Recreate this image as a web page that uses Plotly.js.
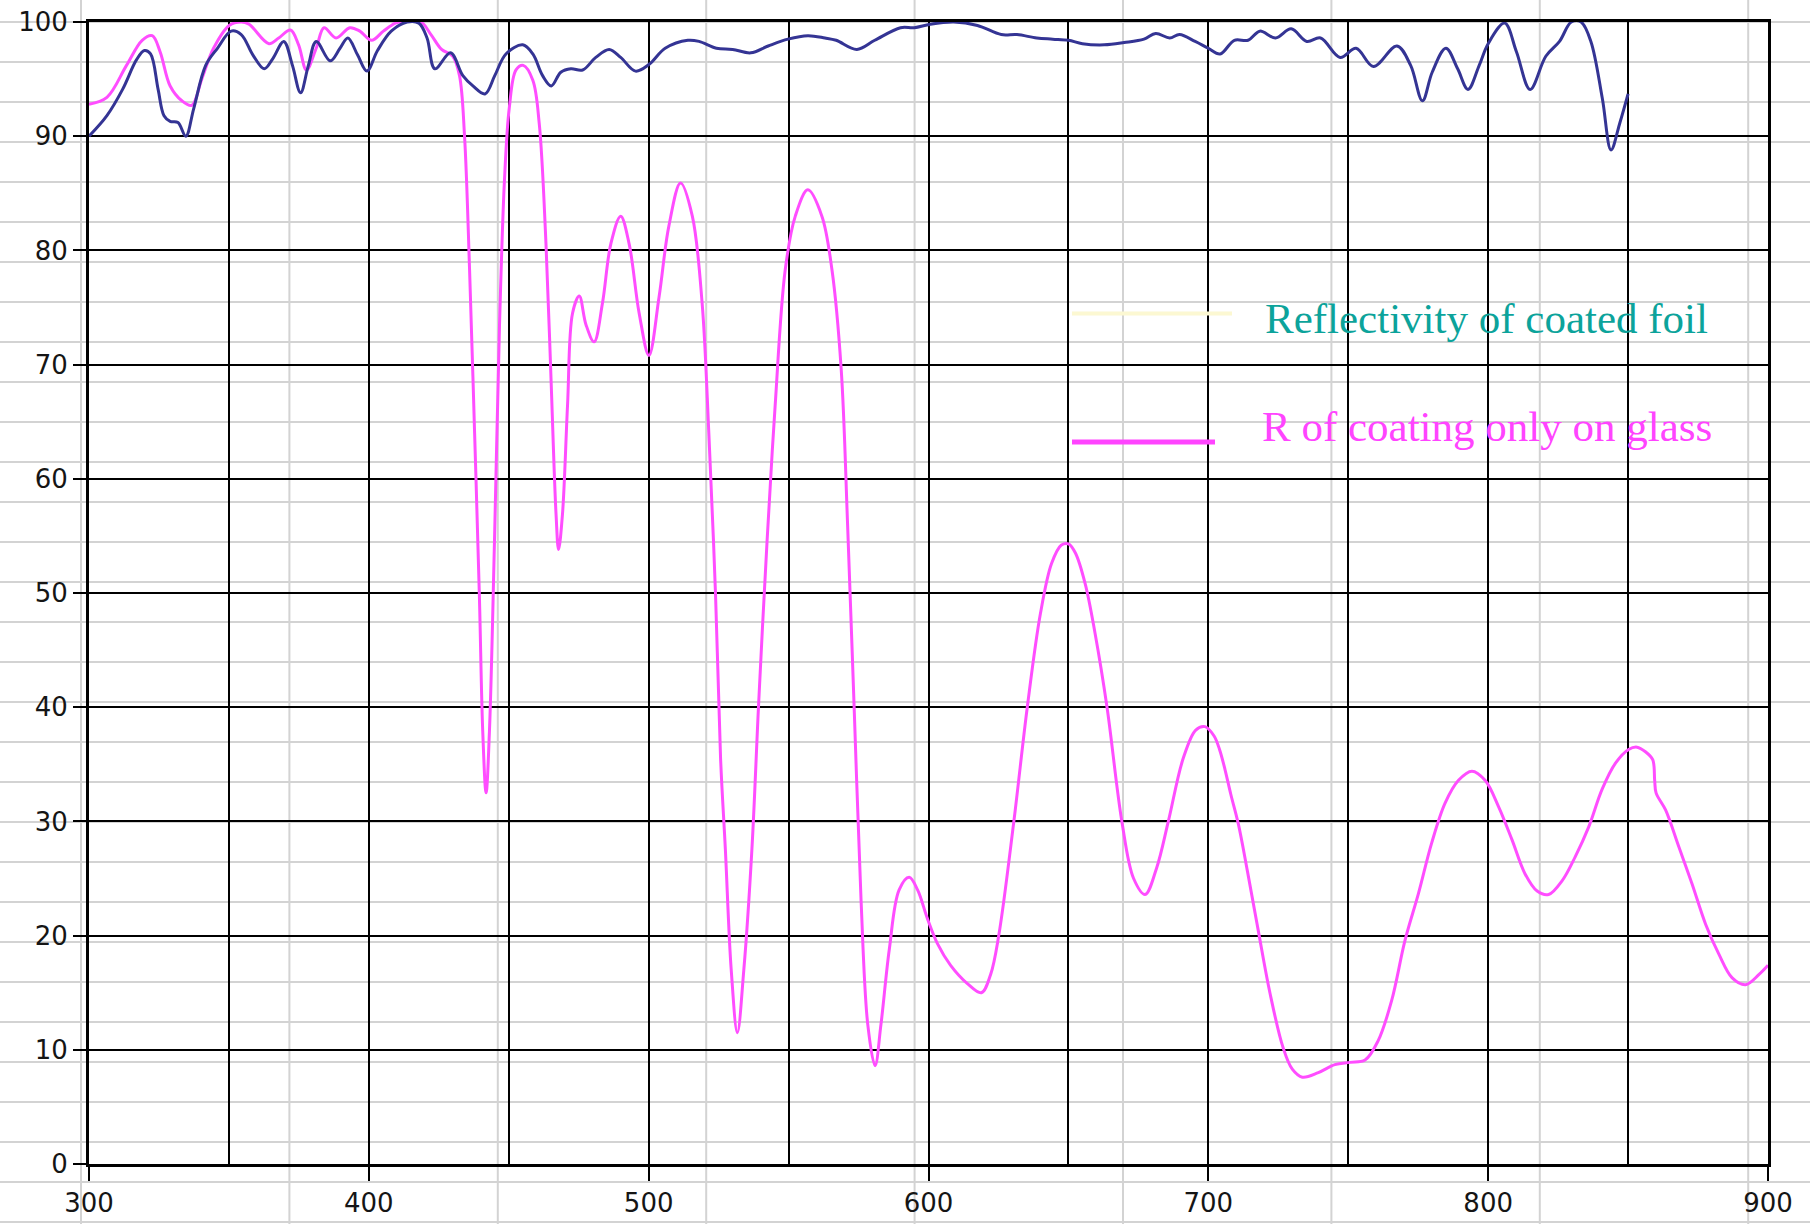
<!DOCTYPE html>
<html>
<head>
<meta charset="utf-8">
<script src="https://cdn.plot.ly/plotly-3.0.1.min.js"></script>
<style>
html,body{margin:0;padding:0;background:#fff;}
#chart{width:1810px;height:1224px;}
</style>
</head>
<body>
<div id="chart"></div>
<script>
// ---- Data ----
const foilWavelength = [300,306.4,312,317,319.8,322,324.7,326.8,329,331.8,334.6,337.4,341.7,345.9,350.8,354.4,358.6,362.6,365.7,369.6,372.7,375.6,378.4,381.2,386.2,389.7,392.5,396,399.3,403.1,408,413.7,417.9,420.8,423.6,429.2,433.6,437.2,441.5,445,449,455,458.6,462.1,465.2,468.6,472.2,476.4,481.1,485.9,490,495.3,500.2,505.9,514,518,524.2,530,536.5,542.7,549.8,556.9,563,567,574.4,580.8,590,594.9,600.6,609,617.5,626,631.6,638.7,644.4,650,655,662.8,669.9,677,681.2,686.2,689.7,695.3,700,704.2,709.3,714.2,718.4,724,729.6,735.2,740.1,747.1,752.8,759,767.4,772.3,776.5,780,784.9,789.1,792.8,796.8,800,805.9,810.1,815,820.6,825.5,829.7,833.2,836.7,840.8,843.9,847.1,850];
const foilReflectivity = [90,91.8,94.1,96.7,97.5,97.2,94.1,91.8,91.3,91.2,90,92.4,96.2,97.7,99.2,98.9,97.1,95.9,96.8,98.3,96.2,93.8,96.2,98.3,96.6,97.7,98.6,97.1,95.7,97.5,99.2,100,99.9,98.6,95.9,97.3,95.3,94.4,93.7,95.3,97.2,98,97.2,95.3,94.4,95.6,95.9,95.8,96.9,97.6,96.9,95.7,96.3,97.7,98.4,98.3,97.7,97.6,97.3,97.9,98.5,98.8,98.6,98.4,97.6,98.4,99.5,99.5,99.8,100,99.7,98.9,98.9,98.6,98.5,98.4,98.1,98,98.2,98.5,99,98.6,98.9,98.3,97.7,97.2,98.4,98.4,99.2,98.6,99.4,98.3,98.6,96.9,97.7,96.1,97.9,96.2,93.1,95.6,97.7,95.9,94.1,96.2,98.1,99.9,97.4,94.1,97,98.3,100,100,98.3,93.3,88.8,91.2,93.7];

const glassWavelength = [300,306.4,313.4,319,322.6,325.4,329,333.2,336.7,340.3,344.5,350.1,354.4,357.2,364.3,367.8,372,374.9,377.7,381.2,384,388.3,393.2,396.8,401,405.2,409.5,412.3,418.6,422.2,426,430,432.4,434.2,436,437.8,439.5,440.7,441.9,443.1,444.9,446.7,448.5,450.2,452.6,455.2,458.6,460.9,463.3,465.1,466.9,467.8,469.2,471,472.8,475.2,477.6,480.5,483.5,486.5,490,493,496.6,500.1,503.7,507.2,511.4,515.6,519.1,521.5,523.9,525.7,527.4,529.5,531.7,534,536.9,539.3,542.3,545.2,548.8,552.4,556.9,561.9,565.5,568.8,571.1,573.5,575.9,578.3,580.9,583,586,589.5,593.1,596.1,599.6,603.2,607.9,613.9,618.9,622.2,625.1,630.5,635.3,640,644,647.5,650,652.5,656,659.5,663.8,669.1,673.3,677.4,681.5,685.7,691,695.5,698.8,702,704,706,708,710.7,714,717.8,722,726.7,730,733.6,739.3,745.2,750.6,756,760.7,765.5,770.3,775.1,779.8,784.6,789.4,794.2,798.9,803.7,808.5,813.2,817.5,821.6,826.4,831.1,835.9,840.7,845.5,850.2,853.2,856.2,858.8,859.5,860,863.4,868.1,872.9,877.7,882.4,887.2,892,896.8,900];
const glassReflectivity = [92.8,93.4,96.2,98.4,98.8,97.4,94.4,93.1,92.7,95,97.7,99.7,100,99.8,98.1,98.6,99.3,98,95.8,97.7,99.5,98.6,99.5,99.2,98.4,99.2,99.9,100,100,98.9,97.6,97,95.3,90,78.3,64,49.8,37.9,32.5,37.9,54.5,73.5,86.3,92.5,95.8,96.2,94.9,91.1,80.6,68.8,56.9,53.8,56.9,66.4,74.5,76,73.5,72,75.4,80.6,83,80.6,74.5,70.8,75.9,82.1,85.9,83,75.4,64,49.8,35.5,27.6,17,11.5,17,27.6,40.3,54.5,66.4,78.3,83,85.3,83,78.3,69.6,55.9,39.5,23.1,12.2,8.6,12.2,18.8,24,25.1,24,21.5,19.3,17.4,15.8,15,16.6,20,30,40,48.2,52.6,54.2,54.3,53.5,50.8,46.5,40,30,25,23.6,25.9,30,35.5,38,38.3,37.5,36.3,34.5,32.4,29.8,25.6,20.5,15,10.2,8.3,7.6,8,8.7,8.9,9.1,10.8,14.3,19.6,23.7,28.1,31.6,33.6,34.4,33.6,31.3,28.4,25.4,23.9,23.6,24.8,26.9,29.5,32.8,35.1,36.3,36.5,36.1,35.4,33.6,32.5,31,27.8,24.5,21,18.4,16.3,15.7,16.6,17.4];

const seriesNames = ["Reflectivity of coated foil", "R of coating only on glass"];
const xTickValues = [300, 400, 500, 600, 700, 800, 900];
const yTickValues = [0, 10, 20, 30, 40, 50, 60, 70, 80, 90, 100];

// ---- Layout constants ----
const W = 1810, H = 1224;
const M = {l: 89, r: 42, t: 22, b: 60};
const plotW = W - M.l - M.r, plotH = H - M.t - M.b;
const px2paperX = X => (X - M.l) / plotW;
const px2paperY = Y => (H - M.b - Y) / plotH;

// background spreadsheet-like grey cell grid
const shapes = [];
for (let k = 0; k <= 8; k++) {
  const X = 81 + 208.4 * k;
  shapes.push({type: 'line', xref: 'paper', yref: 'paper', layer: 'below',
    x0: px2paperX(X), x1: px2paperX(X), y0: px2paperY(0), y1: px2paperY(H),
    line: {color: '#d3d3d3', width: 2}});
}
for (let k = 0; k <= 30; k++) {
  const Y = 22 + 40 * k;
  shapes.push({type: 'line', xref: 'paper', yref: 'paper', layer: 'below',
    x0: px2paperX(0), x1: px2paperX(W), y0: px2paperY(Y), y1: px2paperY(Y),
    line: {color: '#d3d3d3', width: 2}});
}
// legend sample lines
shapes.push({type: 'line', xref: 'paper', yref: 'paper', layer: 'above',
  x0: px2paperX(1072), x1: px2paperX(1232), y0: px2paperY(313.5), y1: px2paperY(313.5),
  line: {color: '#fcf8d2', width: 4}});
shapes.push({type: 'line', xref: 'paper', yref: 'paper', layer: 'above',
  x0: px2paperX(1072), x1: px2paperX(1215), y0: px2paperY(442), y1: px2paperY(442),
  line: {color: '#ff44ff', width: 5}});

const annotations = [
  {text: seriesNames[0], xref: 'paper', yref: 'paper', x: px2paperX(1263), y: px2paperY(318),
   xanchor: 'left', yanchor: 'middle', showarrow: false,
   font: {family: 'Liberation Serif, Times New Roman, serif', size: 43, color: '#0ca39b'}},
  {text: seriesNames[1], xref: 'paper', yref: 'paper', x: px2paperX(1260), y: px2paperY(426),
   xanchor: 'left', yanchor: 'middle', showarrow: false,
   font: {family: 'Liberation Serif, Times New Roman, serif', size: 43, color: '#ff44ff'}}
];

const traces = [
  {x: glassWavelength, y: glassReflectivity, name: seriesNames[1], type: 'scatter', mode: 'lines',
   line: {color: '#ff4dff', width: 3, shape: 'spline', smoothing: 1}, showlegend: false, hoverinfo: 'skip'},
  {x: foilWavelength, y: foilReflectivity, name: seriesNames[0], type: 'scatter', mode: 'lines',
   line: {color: '#343494', width: 3, shape: 'spline', smoothing: 1}, showlegend: false, hoverinfo: 'skip'}
];

const tickFont = {family: 'DejaVu Sans, Verdana, sans-serif', size: 26, color: '#151515'};

const layout = {
  width: W, height: H,
  margin: M,
  paper_bgcolor: 'rgba(0,0,0,0)',
  plot_bgcolor: 'rgba(0,0,0,0)',
  showlegend: false,
  xaxis: {
    range: [300, 900], tickvals: xTickValues, ticktext: xTickValues.map(String),
    showgrid: true, gridcolor: '#000', gridwidth: 2,
    minor: {dtick: 50, tick0: 300, showgrid: true, gridcolor: '#000', gridwidth: 2, ticks: ''},
    ticks: 'outside', ticklen: 14, tickwidth: 2, tickcolor: '#000',
    showline: true, linecolor: '#000', linewidth: 3, mirror: true,
    zeroline: false, tickfont: tickFont, fixedrange: true
  },
  yaxis: {
    range: [0, 100], tickvals: yTickValues, ticktext: yTickValues.map(String),
    showgrid: true, gridcolor: '#000', gridwidth: 2,
    ticks: 'outside', ticklen: 13, tickwidth: 2, tickcolor: '#000',
    showline: true, linecolor: '#000', linewidth: 3, mirror: true,
    zeroline: false, tickfont: tickFont, fixedrange: true
  },
  shapes: shapes,
  annotations: annotations
};

Plotly.newPlot('chart', traces, layout, {displayModeBar: false, staticPlot: true});
</script>
</body>
</html>
